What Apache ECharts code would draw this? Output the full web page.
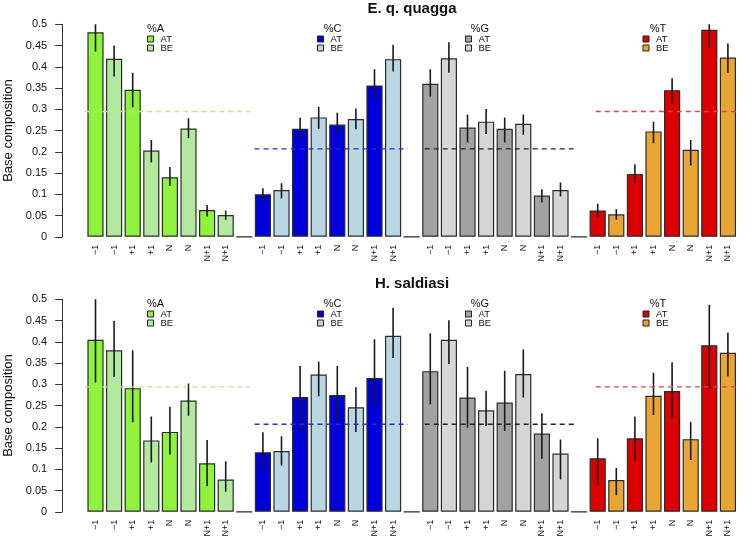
<!DOCTYPE html>
<html>
<head>
<meta charset="utf-8">
<script src="https://cdn.jsdelivr.net/npm/echarts@6/dist/echarts.min.js"></script>
<style>
html,body{margin:0;padding:0;background:#fff;}
#chart{width:751px;height:548px;}
</style>
</head>
<body>
<div id="chart"></div>
<script>
// ---------- DATA ----------
const panelTitles = ['E. q. quagga', 'H. saldiasi'];
const groupNames = ['%A', '%C', '%G', '%T'];
const sourceNames = ['AT', 'BE'];
const positionLabels = ['\u22121', '\u22121', '+1', '+1', 'N', 'N', 'N+1', 'N+1'];

// Panel 1: E. q. quagga  (mean, lower, upper) per group, bars alternate AT, BE
const quaggaA_mean = [0.481, 0.419, 0.346, 0.203, 0.140, 0.255, 0.063, 0.051];
const quaggaA_low  = [0.436, 0.377, 0.305, 0.175, 0.120, 0.232, 0.048, 0.040];
const quaggaA_high = [0.505, 0.450, 0.386, 0.228, 0.164, 0.279, 0.075, 0.062];
const quaggaC_mean = [0.100, 0.110, 0.254, 0.281, 0.264, 0.277, 0.356, 0.418];
const quaggaC_low  = [0.081, 0.090, 0.228, 0.254, 0.244, 0.253, 0.322, 0.389];
const quaggaC_high = [0.114, 0.126, 0.280, 0.306, 0.292, 0.302, 0.394, 0.452];
const quaggaG_mean = [0.360, 0.420, 0.257, 0.271, 0.254, 0.266, 0.097, 0.110];
const quaggaG_low  = [0.330, 0.386, 0.222, 0.242, 0.222, 0.240, 0.081, 0.095];
const quaggaG_high = [0.394, 0.458, 0.288, 0.301, 0.281, 0.288, 0.112, 0.128];
const quaggaT_mean = [0.062, 0.053, 0.148, 0.248, 0.345, 0.205, 0.487, 0.422];
const quaggaT_low  = [0.046, 0.040, 0.126, 0.220, 0.313, 0.168, 0.445, 0.386];
const quaggaT_high = [0.078, 0.065, 0.171, 0.271, 0.373, 0.228, 0.505, 0.455];
const quaggaRef    = [0.295, 0.207, 0.207, 0.295];

// Panel 2: H. saldiasi
const saldiasiA_mean = [0.405, 0.380, 0.291, 0.168, 0.188, 0.262, 0.114, 0.076];
const saldiasiA_low  = [0.304, 0.318, 0.211, 0.116, 0.135, 0.226, 0.060, 0.047];
const saldiasiA_high = [0.510, 0.449, 0.380, 0.224, 0.247, 0.302, 0.169, 0.119];
const saldiasiC_mean = [0.140, 0.143, 0.270, 0.323, 0.275, 0.246, 0.315, 0.414];
const saldiasiC_low  = [0.098, 0.109, 0.187, 0.272, 0.212, 0.188, 0.250, 0.362];
const saldiasiC_high = [0.187, 0.178, 0.343, 0.353, 0.343, 0.293, 0.406, 0.480];
const saldiasiG_mean = [0.331, 0.405, 0.269, 0.239, 0.257, 0.324, 0.184, 0.137];
const saldiasiG_low  = [0.253, 0.348, 0.198, 0.202, 0.190, 0.269, 0.125, 0.076];
const saldiasiG_high = [0.420, 0.451, 0.341, 0.285, 0.332, 0.382, 0.232, 0.170];
const saldiasiT_mean = [0.126, 0.075, 0.173, 0.273, 0.284, 0.171, 0.392, 0.374];
const saldiasiT_low  = [0.063, 0.039, 0.120, 0.228, 0.220, 0.122, 0.290, 0.319];
const saldiasiT_high = [0.173, 0.103, 0.224, 0.327, 0.352, 0.212, 0.487, 0.422];
const saldiasiRef    = [0.294, 0.206, 0.206, 0.294];

// ---------- STYLE ----------
const FONT = '"Liberation Sans", Arial, Helvetica, sans-serif';
const groupColors = [
  ['#8ff23c', '#b3e99e'],
  ['#0000dc', '#b9d6e2'],
  ['#a2a2a2', '#d5d5d5'],
  ['#dc0000', '#e8a533']
];
const refColors = ['#b6ec88', '#2a2ad0', '#222222', '#e04444'];
const refStart = [-0.6, 8.55, 17.7, 26.9];
const refEnd = [8.3, 16.8, 25.9, 35.3];
const legendX = [147.5, 317.5, 465.5, 643];
const legendTitleDx = [8, 15, 14.5, 15];

const panels = [
  {title: panelTitles[0],
   mean: [quaggaA_mean, quaggaC_mean, quaggaG_mean, quaggaT_mean],
   low: [quaggaA_low, quaggaC_low, quaggaG_low, quaggaT_low],
   high: [quaggaA_high, quaggaC_high, quaggaG_high, quaggaT_high],
   ref: quaggaRef, top: 24.3, titleY: 9, legendY: 29},
  {title: panelTitles[1],
   mean: [saldiasiA_mean, saldiasiC_mean, saldiasiG_mean, saldiasiT_mean],
   low: [saldiasiA_low, saldiasiC_low, saldiasiG_low, saldiasiT_low],
   high: [saldiasiA_high, saldiasiC_high, saldiasiG_high, saldiasiT_high],
   ref: saldiasiRef, top: 299.3, titleY: 284, legendY: 304}
];

const GRID_LEFT = 86.2, GRID_W = 651, GRID_H = 212.5;
const nSlots = groupNames.length * 9 - 1;
const cats = [], xLabels = [];
for (let g = 0; g < groupNames.length; g++) {
  for (let i = 0; i < 8; i++) { cats.push(String(cats.length)); xLabels.push(positionLabels[i]); }
  if (g < groupNames.length - 1) { cats.push(String(cats.length)); xLabels.push(''); }
}

const grids = [], xAxes = [], yAxes = [], series = [], graphics = [];
panels.forEach((p, pi) => {
  grids.push({left: GRID_LEFT, top: p.top, width: GRID_W, height: GRID_H,
    containLabel: false, outerBoundsMode: 'none'});
  xAxes.push({
    type: 'category', gridIndex: pi, data: cats, boundaryGap: true,
    axisLine: {show: false, onZero: false}, axisTick: {show: false}, splitLine: {show: false},
    axisLabel: {interval: 0, rotate: 90, margin: 8, fontSize: 9, fontFamily: FONT, color: '#111',
      formatter: (v, i) => xLabels[i]}
  });
  xAxes.push({
    type: 'value', gridIndex: pi, min: -0.5, max: nSlots - 0.5, show: false,
    axisLine: {onZero: false}
  });
  yAxes.push({
    type: 'value', gridIndex: pi, min: 0, max: 0.5, interval: 0.05, offset: 24,
    name: 'Base composition', nameLocation: 'middle', nameGap: 46,
    nameTextStyle: {fontSize: 13, fontFamily: FONT, color: '#111'},
    axisLine: {show: true, onZero: false, lineStyle: {color: '#333', width: 1}},
    axisTick: {show: true, length: 7, lineStyle: {color: '#333'}},
    splitLine: {show: false},
    axisLabel: {fontSize: 11, margin: 15, fontFamily: FONT, color: '#111',
      formatter: v => String(+v.toFixed(2))}
  });

  const barData = [], errData = [];
  let slot = 0;
  for (let g = 0; g < groupNames.length; g++) {
    for (let i = 0; i < 8; i++) {
      barData.push({value: p.mean[g][i], itemStyle: {color: groupColors[g][i % 2]}});
      errData.push([slot, p.low[g][i], p.high[g][i]]);
      slot++;
    }
    if (g < groupNames.length - 1) {
      barData.push({value: 0, itemStyle: {color: 'rgba(0,0,0,0)'}});
      slot++;
    }
  }
  series.push({
    type: 'bar', xAxisIndex: pi * 2, yAxisIndex: pi, data: barData, barWidth: '87%',
    itemStyle: {borderColor: '#2b2b2b', borderWidth: 1.2}, silent: true, animation: false
  });
  series.push({
    type: 'custom', xAxisIndex: pi * 2, yAxisIndex: pi, data: errData, clip: true,
    animation: false, silent: true, z: 5,
    renderItem: (params, api) => {
      const a = api.coord([api.value(0), api.value(1)]);
      const b = api.coord([api.value(0), api.value(2)]);
      return {type: 'line', shape: {x1: a[0], y1: a[1], x2: b[0], y2: b[1]},
        style: {stroke: '#1a1a1a', lineWidth: 1.6}};
    }
  });
  for (let g = 0; g < groupNames.length; g++) {
    series.push({
      type: 'line', xAxisIndex: pi * 2 + 1, yAxisIndex: pi, clip: false, z: 6,
      symbol: 'none', animation: false, silent: true,
      data: [[refStart[g], p.ref[g]], [refEnd[g], p.ref[g]]],
      lineStyle: {color: refColors[g], width: 1.4, type: [5, 4]}
    });
  }

  // panel title
  graphics.push({type: 'text', x: 412, y: p.titleY, style: {text: p.title, font: 'bold 15px ' + FONT,
    fill: '#111', textAlign: 'center', textVerticalAlign: 'middle'}});
  // legends
  for (let g = 0; g < groupNames.length; g++) {
    const lx = legendX[g];
    graphics.push({type: 'text', x: lx + legendTitleDx[g], y: p.legendY, style: {text: groupNames[g],
      font: '11px ' + FONT, fill: '#111', textAlign: 'center', textVerticalAlign: 'middle'}});
    for (let s = 0; s < 2; s++) {
      const cy = p.legendY + 10 + s * 9;
      graphics.push({type: 'rect', shape: {x: lx, y: cy - 3, width: 6, height: 6},
        style: {fill: groupColors[g][s], stroke: '#222', lineWidth: 1}});
      graphics.push({type: 'text', x: lx + 13, y: cy, style: {text: sourceNames[s],
        font: '9.5px ' + FONT, fill: '#111', textAlign: 'left', textVerticalAlign: 'middle'}});
    }
  }
});

const chart = echarts.init(document.getElementById('chart'), null, {renderer: 'canvas'});
chart.setOption({
  backgroundColor: '#fff',
  animation: false,
  grid: grids, xAxis: xAxes, yAxis: yAxes, series: series, graphic: graphics
});
</script>
</body>
</html>
